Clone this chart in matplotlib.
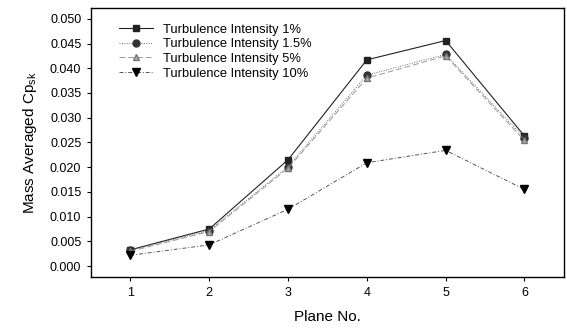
import matplotlib
matplotlib.use('Agg')
import matplotlib.pyplot as plt

plt.rcParams['font.family'] = ['Liberation Sans', 'DejaVu Sans']

planes = [1, 2, 3, 4, 5, 6]
ti_1 = [0.0033, 0.0075, 0.0215, 0.0417, 0.0456, 0.0263]
ti_1_5 = [0.0032, 0.0072, 0.0201, 0.0386, 0.0428, 0.0259]
ti_5 = [0.0030, 0.0070, 0.0198, 0.0380, 0.0425, 0.0254]
ti_10 = [0.0022, 0.0043, 0.0115, 0.0209, 0.0234, 0.0155]

fig = plt.figure(figsize=(5.67, 3.29), dpi=100)
ax = fig.add_axes([0.1605, 0.158, 0.834, 0.818])

ax.plot(planes, ti_1, color='#222222', lw=0.8, ls='-', marker='s', ms=5,
        label='Turbulence Intensity 1%')
ax.plot(planes, ti_1_5, color='#666666', lw=0.7, ls=(0, (1, 1.5)), marker='o', ms=5,
        mfc='#333333', mec='#333333', label='Turbulence Intensity 1.5%')
ax.plot(planes, ti_5, color='#999999', lw=0.7, ls=(0, (6, 3)), marker='^', ms=5,
        mfc='#aaaaaa', mec='#777777', label='Turbulence Intensity 5%')
ax.plot(planes, ti_10, color='#555555', lw=0.7, ls=(0, (4, 2, 1, 2)), marker='v', ms=6,
        mfc='black', mec='black', label='Turbulence Intensity 10%')

ax.set_xlim(0.5, 6.5)
ax.set_ylim(-0.0022, 0.0522)
ax.set_xticks(planes)
ax.set_yticks([0.000, 0.005, 0.010, 0.015, 0.020, 0.025, 0.030, 0.035, 0.040, 0.045, 0.050])
ax.yaxis.set_major_formatter(matplotlib.ticker.FormatStrFormatter('%.3f'))
ax.tick_params(direction='out', labelsize=9, length=3, pad=4, top=False, right=False)
for s in ax.spines.values():
    s.set_linewidth(1.0)

ax.set_xlabel('Plane No.', fontsize=11, labelpad=8)
ax.set_ylabel('Mass Averaged Cp$_{\\mathregular{sk}}$', fontsize=11, labelpad=8)

ax.legend(loc='upper left', frameon=False, fontsize=9.3, handlelength=2.6,
          borderaxespad=0.3, labelspacing=0.2, bbox_to_anchor=(0.04, 0.975))

fig.savefig('out.png', dpi=100)
